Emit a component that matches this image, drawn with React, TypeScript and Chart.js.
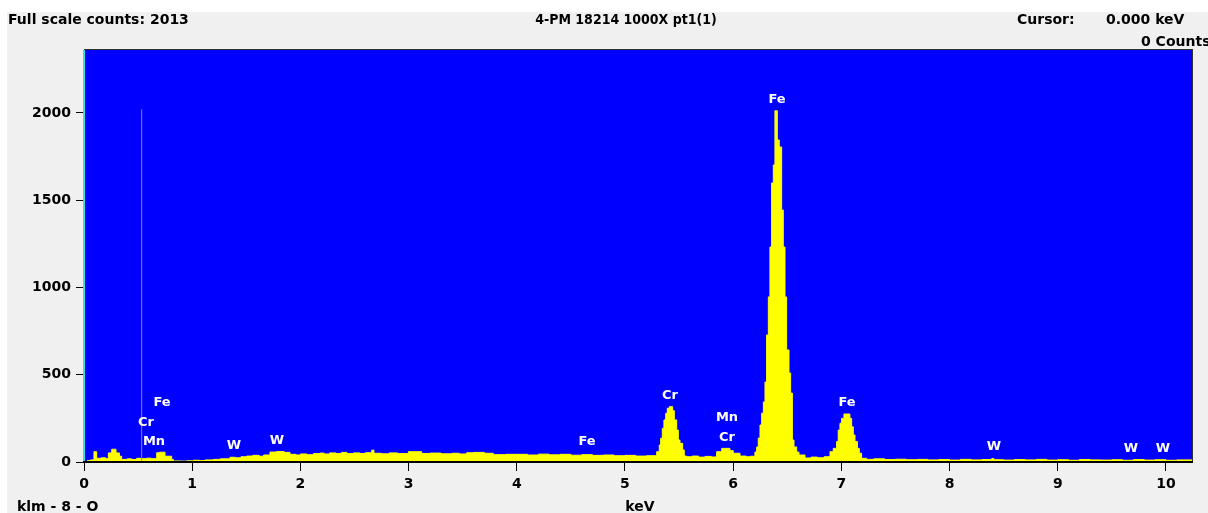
import { useEffect, useRef } from 'react';
import { Chart, registerables } from 'chart.js';

Chart.register(...registerables);

// Spectrum channels: energy (keV, channel start) and counts
const energyKeV = [
  0.0, 0.03, 0.06, 0.092, 0.117, 0.16, 0.2, 0.225, 0.256, 0.296, 0.327, 0.348, 0.4, 0.44, 0.487, 0.533,
  0.58, 0.62, 0.672, 0.7, 0.749, 0.81, 0.826, 0.9, 0.95, 1.01, 1.07, 1.12, 1.195, 1.26, 1.349, 1.4,
  1.45, 1.504, 1.56, 1.62, 1.66, 1.719, 1.78, 1.85, 1.904, 1.96, 2.0, 2.06, 2.12, 2.18, 2.22, 2.27,
  2.33, 2.38, 2.43, 2.49, 2.55, 2.6, 2.659, 2.68, 2.75, 2.82, 2.9, 2.998, 3.121, 3.2, 3.3, 3.4,
  3.47, 3.537, 3.6, 3.7, 3.783, 3.9, 4.03, 4.1, 4.2, 4.3, 4.4, 4.5, 4.6, 4.7, 4.8, 4.9,
  5.0, 5.1, 5.2, 5.293, 5.317, 5.33, 5.345, 5.36, 5.376, 5.391, 5.41, 5.441, 5.456, 5.478, 5.493, 5.508,
  5.533, 5.548, 5.57, 5.62, 5.68, 5.74, 5.8, 5.847, 5.894, 5.97, 6.001, 6.063, 6.12, 6.16, 6.201, 6.217,
  6.232, 6.248, 6.263, 6.279, 6.294, 6.309, 6.325, 6.34, 6.355, 6.371, 6.386, 6.408, 6.426, 6.448, 6.463, 6.479,
  6.494, 6.516, 6.531, 6.547, 6.562, 6.587, 6.608, 6.664, 6.72, 6.78, 6.84, 6.895, 6.925, 6.956, 6.971, 6.987,
  7.002, 7.024, 7.079, 7.095, 7.11, 7.126, 7.148, 7.166, 7.187, 7.234, 7.3, 7.4, 7.5, 7.6, 7.7, 7.8,
  7.9, 8.0, 8.1, 8.2, 8.3, 8.39, 8.41, 8.5, 8.6, 8.7, 8.8, 8.9, 9.0, 9.1, 9.2, 9.3,
  9.4, 9.5, 9.6, 9.7, 9.8, 9.9, 10.0, 10.1, 10.25,
];
const counts = [
  0, 8, 12, 59, 21, 24, 19, 52, 73, 52, 33, 15, 18, 14, 21, 19,
  22, 19, 53, 56, 33, 15, 6, 5, 7, 10, 8, 12, 15, 18, 27, 24,
  30, 34, 38, 33, 40, 57, 60, 55, 44, 40, 46, 42, 48, 51, 46, 52,
  49, 55, 48, 52, 49, 53, 68, 50, 47, 52, 48, 59, 49, 51, 47, 50,
  46, 53, 55, 50, 42, 44, 44, 40, 45, 41, 44, 39, 42, 38, 40, 36,
  38, 34, 36, 59, 97, 136, 193, 241, 279, 308, 317, 294, 241, 183, 126, 107,
  69, 34, 30, 34, 28, 32, 29, 59, 78, 65, 50, 34, 30, 33, 57, 86,
  137, 212, 280, 344, 458, 728, 946, 1232, 1599, 1702, 2013, 1845, 1805, 1444, 1232, 946,
  642, 510, 395, 126, 86, 57, 40, 23, 28, 24, 30, 59, 78, 117, 183, 222,
  250, 275, 250, 202, 155, 117, 78, 50, 21, 15, 18, 14, 16, 13, 15, 12,
  14, 11, 15, 12, 14, 20, 13, 11, 14, 12, 15, 11, 13, 10, 14, 12,
  11, 13, 10, 14, 11, 13, 10, 12, 12,
];

// Cursor marker line
const cursorKeV = 0.533;
const cursorTopCounts = 2021;

// Element labels
const labelText = ['Cr', 'Fe', 'Mn', 'W', 'W', 'Fe', 'Cr', 'Mn', 'Cr', 'Fe', 'Fe', 'W', 'W', 'W'];
const labelKeV = [0.573, 0.721, 0.647, 1.386, 1.784, 4.649, 5.416, 5.943, 5.943, 6.405, 7.052, 8.41, 9.677, 9.972];
const labelCounts = [223, 338, 115, 92, 120, 115, 378, 252, 138, 2074, 338, 86, 74, 74];

// Axes
const xTicks = [0, 1, 2, 3, 4, 5, 6, 7, 8, 9, 10];
const yTicks = [0, 500, 1000, 1500, 2000];
const xMax = 10.25;
const yMax = 2361;

const FONT = "'DejaVu Sans', sans-serif";

export default function App() {
  const ref = useRef<HTMLCanvasElement>(null);

  useEffect(() => {
    document.body.style.margin = '0';
    const canvas = ref.current;
    if (!canvas) return;

    const plotDecor = {
      id: 'plotDecor',
      beforeDraw(chart: any) {
        const { ctx, chartArea } = chart;
        const { left, top, right, bottom } = chartArea;
        ctx.save();
        ctx.fillStyle = '#0000ff';
        ctx.fillRect(left, top, right - left, bottom - top);
        ctx.restore();
      },
      afterDatasetsDraw(chart: any) {
        const { ctx, chartArea, scales } = chart;
        const { left, top, right, bottom } = chartArea;
        ctx.save();
        ctx.fillStyle = '#ffffff';
        ctx.font = `bold 13px ${FONT}`;
        ctx.textAlign = 'center';
        ctx.textBaseline = 'middle';
        labelText.forEach((t, i) => {
          ctx.fillText(t, scales.x.getPixelForValue(labelKeV[i]), scales.y.getPixelForValue(labelCounts[i]));
        });
        ctx.fillStyle = '#303030';
        ctx.fillRect(left, top - 1, right - left, 1);
        ctx.fillRect(right - 1, top - 1, 1, bottom - top + 1);
        ctx.fillStyle = '#30e0e0';
        ctx.fillRect(left - 1, top, 2, bottom - top);
        ctx.fillStyle = '#000000';
        ctx.fillRect(left - 1, bottom - 1, right - left + 1, 2);
        ctx.restore();
      },
    };

    const chart = new Chart(canvas, {
      type: 'line',
      data: {
        datasets: [
          {
            data: [
              { x: cursorKeV, y: 0 },
              { x: cursorKeV, y: cursorTopCounts },
            ],
            borderColor: '#8a8a8a',
            borderWidth: 1,
            pointRadius: 0,
            fill: false,
          },
          {
            data: energyKeV.map((e, i) => ({ x: e, y: counts[i] })),
            borderColor: '#ffff00',
            backgroundColor: '#ffff00',
            borderWidth: 1,
            pointRadius: 0,
            stepped: 'before',
            fill: 'origin',
          },
        ],
      },
      options: {
        animation: false,
        responsive: false,
        devicePixelRatio: 1,
        layout: { padding: { top: 38, right: 15, left: 0, bottom: 0 } },
        plugins: {
          legend: { display: false },
          tooltip: { enabled: false },
          title: { display: false },
        },
        scales: {
          x: {
            type: 'linear',
            min: 0,
            max: xMax,
            afterBuildTicks: (s: any) => {
              s.ticks = xTicks.map((v) => ({ value: v }));
            },
            afterFit: (s: any) => {
              s.height = 51;
            },
            ticks: {
              color: '#000000',
              font: { family: FONT, weight: 'bold', size: 14 },
              padding: 5,
              maxRotation: 0,
              autoSkip: false,
              callback: (v: any) => String(v),
            },
            grid: { display: true, drawOnChartArea: false, drawTicks: true, tickLength: 9, color: '#000000', lineWidth: 1 },
            border: { display: false },
          },
          y: {
            type: 'linear',
            min: 0,
            max: yMax,
            afterBuildTicks: (s: any) => {
              s.ticks = yTicks.map((v) => ({ value: v }));
            },
            afterFit: (s: any) => {
              s.width = 77;
            },
            ticks: {
              color: '#000000',
              font: { family: FONT, weight: 'bold', size: 14 },
              padding: 5,
              autoSkip: false,
              callback: (v: any) => String(v),
            },
            grid: { display: true, drawOnChartArea: false, drawTicks: true, tickLength: 8, color: '#000000', lineWidth: 1 },
            border: { display: false },
          },
        },
      },
      plugins: [plotDecor],
    });

    return () => chart.destroy();
  }, []);

  const txt = (extra: any) => ({
    position: 'absolute' as const,
    fontFamily: FONT,
    fontWeight: 'bold' as const,
    fontSize: 14,
    lineHeight: '16px',
    color: '#000',
    whiteSpace: 'nowrap' as const,
    ...extra,
  });

  return (
    <div style={{ position: 'absolute', left: 0, top: 0, width: 1208, height: 513, background: '#ffffff', overflow: 'hidden' }}>
      <div style={{ position: 'absolute', left: 7, top: 12, width: 1201, height: 501, background: '#f0f0f0' }}>
        <canvas ref={ref} width={1201} height={501} style={{ position: 'absolute', left: 0, top: 0, width: 1201, height: 501 }} />
      </div>
      <div style={txt({ left: 8, top: 11 })}>Full scale counts: 2013</div>
      <div style={txt({ left: 626, top: 11, fontFamily: "'DejaVu Sans Condensed', 'DejaVu Sans', sans-serif", fontStretch: 'condensed', transform: 'translateX(-50%)' })}>4-PM 18214 1000X pt1(1)</div>
      <div style={txt({ left: 1017, top: 11 })}>Cursor:</div>
      <div style={txt({ left: 1106, top: 11 })}>0.000 keV</div>
      <div style={txt({ left: 1141, top: 33 })}>0 Counts</div>
      <div style={txt({ left: 17, top: 498 })}>klm - 8 - O</div>
      <div style={txt({ left: 640, top: 498, transform: 'translateX(-50%)' })}>keV</div>
    </div>
  );
}
